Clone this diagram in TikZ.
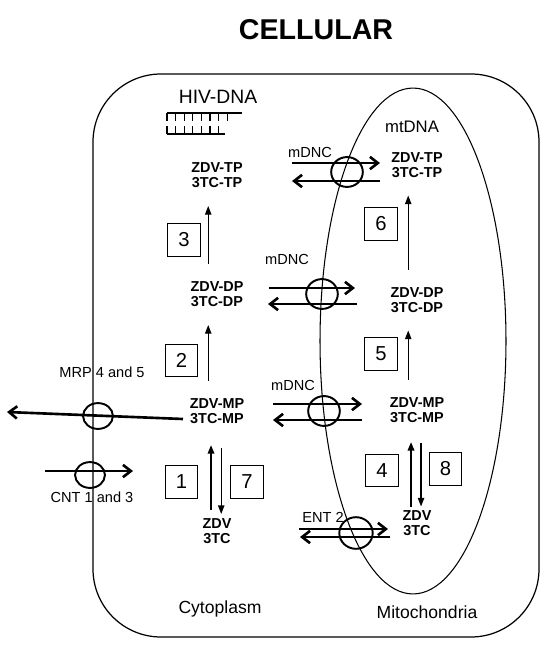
\documentclass[tikz,border=0pt]{standalone}
\usepackage{fontspec}
\setmainfont{Liberation Sans}
\usetikzlibrary{arrows.meta, positioning, calc, shapes.geometric}

\begin{document}
\begin{tikzpicture}[
        x=0.02cm, y=-0.02cm,
        drug/.style={
            font=\fontsize{8.2}{8.5}\selectfont\bfseries,
            align=center,
            inner sep=0pt
        },
        tag/.style={
            font=\fontsize{8.3}{9}\selectfont,
            inner sep=0pt
        },
        stepno/.style={
            rectangle,
            draw,
            line width=0.5pt,
            minimum width=18.7pt,
            minimum height=18.5pt,
            inner sep=0pt,
            font=\fontsize{11.5}{12}\selectfont
        },
        pore/.style={
            ellipse,
            draw,
            line width=1.1pt,
            minimum width=18pt,
            minimum height=17pt,
            inner sep=0pt
        },
        conv/.style={
            -{Triangle[length=5pt,width=3.6pt]},
            line width=0.8pt,
            shorten <=10pt,
            shorten >=10pt
        },
        flux/.style={
            -{Straight Barb[length=4.5pt,width=7pt]},
            line width=1.5pt
        }
    ]
        \useasboundingbox (0,0) rectangle (549,646);

        % compartments
        \draw [line width=0.7pt, rounded corners=1.36cm] (93,74) rectangle (539,637);
        \draw [line width=0.6pt] (413,341) ellipse [x radius=1.86cm, y radius=5.06cm];

        \node (title) at (316,30) [font=\fontsize{16.3}{18}\selectfont\bfseries] {CELLULAR};
        \node (hiv) at (218,97) [font=\fontsize{11}{12}\selectfont] {HIV-DNA};
        \node (mtdna) at (412,127) [font=\fontsize{9.5}{10}\selectfont] {mtDNA};
        \node (cyto) at (220,609) [font=\fontsize{10}{11}\selectfont] {Cytoplasm};
        \node (mito) at (427,612) [font=\fontsize{10}{11}\selectfont] {Mitochondria};

        % HIV-DNA strands
        \draw [line width=0.6pt] (167,113) -- (242,113);
        \foreach \i in {0,...,7} \draw [line width=0.6pt] ({167+8.6*\i},113) -- ++(0,8);
        \draw [line width=0.6pt] (167,134) -- (225,134);
        \foreach \i in {0,...,6} \draw [line width=0.6pt] ({167+8.6*\i},134) -- ++(0,-8);

        % phosphorylation states
        \node (tpL) at (217,175.5) [drug] {ZDV-TP\\3TC-TP};
        \node (dpL) at (217,294.5) [drug] {ZDV-DP\\3TC-DP};
        \node (mpL) at (217,411) [drug] {ZDV-MP\\3TC-MP};
        \node (zdvL) at (217,531) [drug] {ZDV\\3TC};
        \node (tpR) at (417,165) [drug] {ZDV-TP\\3TC-TP};
        \node (dpR) at (417,300) [drug] {ZDV-DP\\3TC-DP};
        \node (mpR) at (417,410) [drug] {ZDV-MP\\3TC-MP};
        \node (zdvR) at (417,523.5) [drug] {ZDV\\3TC};

        \draw [conv] ([xshift=-5pt]dpL.north) -- ([xshift=-5pt]tpL.south);
        \draw [conv] ([xshift=-5pt]mpL.north) -- ([xshift=-5pt]dpL.south);
        \draw [conv] ([xshift=-5pt]dpR.north) -- ([xshift=-5pt]tpR.south);
        \draw [conv] ([xshift=-5pt]mpR.north) -- ([xshift=-5pt]dpR.south);
        \draw [conv, line width=1.6pt, shorten <=4.5pt, shorten >=12pt] ([xshift=-3.4pt]zdvL.north) -- ([xshift=-3.4pt]mpL.south);
        \draw [conv, shorten <=13.6pt, shorten >=2.3pt] ([xshift=2.4pt]mpL.south) -- ([xshift=2.4pt]zdvL.north);
        \draw [conv, line width=1.6pt, shorten <=2.3pt, shorten >=10.8pt] ([xshift=-3.4pt]zdvR.north) -- ([xshift=-3.4pt]mpR.south);
        \draw [conv, shorten <=11.3pt, shorten >=2.3pt] ([xshift=2.3pt]mpR.south) -- ([xshift=2.3pt]zdvR.north);

        \node (n3) at (184,240) [stepno] {3};
        \node (n2) at (181.5,360.5) [stepno] {2};
        \node (n1) at (181.5,482) [stepno] {1};
        \node (n7) at (247,482) [stepno] {7};
        \node (n6) at (381,224) [stepno] {6};
        \node (n5) at (381,354) [stepno] {5};
        \node (n4) at (382,470.5) [stepno] {4};
        \node (n8) at (445.5,469) [stepno] {8};

        % transporters
        \node (mdncA) at (347,172) [pore] {};
        \draw [flux] ($(mdncA)+(-55,-9)$) -- ($(mdncA)+(33,-9)$);
        \draw [flux] ($(mdncA)+(33,9)$) -- ($(mdncA)+(-55,9)$);
        \node (labA) at (310,152) [tag] {mDNC};

        \node (mdncB) at (322,294) [pore] {};
        \draw [flux] ($(mdncB)+(-53,-6)$) -- ($(mdncB)+(33,-6)$);
        \draw [flux] ($(mdncB)+(35,10)$) -- ($(mdncB)+(-54,10)$);
        \node (labB) at (287,259) [tag] {mDNC};

        \node (mdncC) at (324,411) [pore] {};
        \draw [flux] ($(mdncC)+(-51,-7)$) -- ($(mdncC)+(38,-7)$);
        \draw [flux] ($(mdncC)+(38,9)$) -- ($(mdncC)+(-51,9)$);
        \node (labC) at (293,385) [tag] {mDNC};

        \node (ent) at (356,533) [pore, minimum width=19pt, minimum height=18pt] {};
        \draw [flux] ($(ent)+(-57,-4)$) -- ($(ent)+(32,-4)$);
        \draw [flux] ($(ent)+(34,4)$) -- ($(ent)+(-56,4)$);
        \node (labE) at (323,517) [tag] {ENT 2};

        \node (mrp) at (98,416) [pore, minimum width=17pt, minimum height=14.7pt] {};
        \draw [flux] ($(mrp)+(85,3)$) -- ($(mrp)+(-91,-4)$);
        \node (labM) at (102,372) [tag] {MRP 4 and 5};

        \node (cnt) at (90,475) [pore, minimum width=17pt, minimum height=14.7pt] {};
        \draw [flux] ($(cnt)+(-45,-4)$) -- ($(cnt)+(43,-4)$);
        \node (labN) at (92,497) [tag] {CNT 1 and 3};
    \end{tikzpicture}
\end{document}
